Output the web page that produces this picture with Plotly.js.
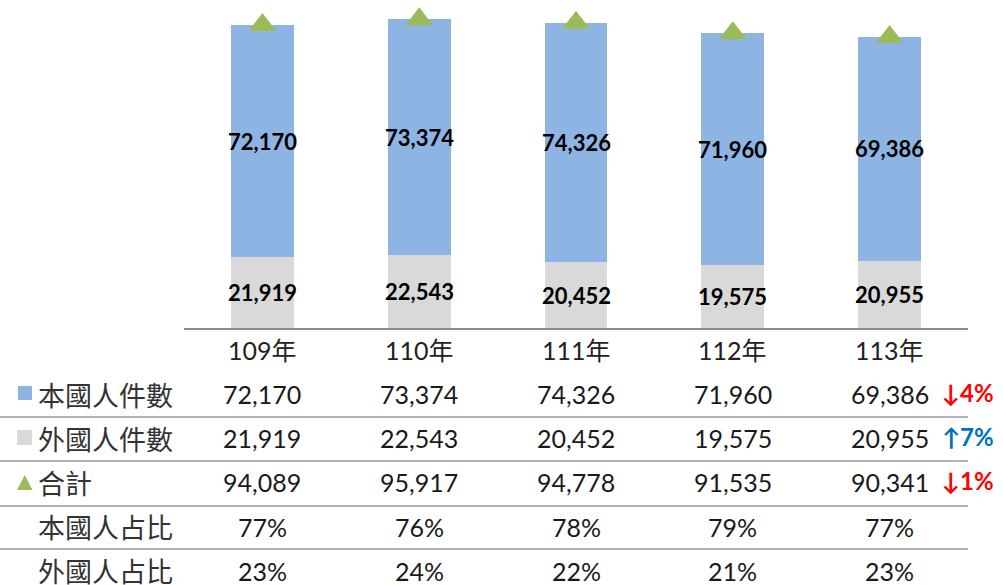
<!DOCTYPE html>
<html>
<head>
<meta charset="utf-8">
<script src="https://cdn.plot.ly/plotly-3.0.1.min.js"></script>
<style>html,body{margin:0;padding:0;background:#fff;}#chart{width:1003px;height:585px;}</style>
</head>
<body>
<div id="chart"></div>
<script>
const years = ['109年', '110年', '111年', '112年', '113年'];
const domestic = [72170, 73374, 74326, 71960, 69386];
const foreign = [21919, 22543, 20452, 19575, 20955];
const total = [94089, 95917, 94778, 91535, 90341];
const domesticShare = ['77%', '76%', '78%', '79%', '77%'];
const foreignShare = ['23%', '24%', '22%', '21%', '23%'];
const rowLabels = ['本國人件數', '外國人件數', '合計', '本國人占比', '外國人占比'];
const changes = ['↓4%', '↑7%', '↓1%'];

const W = 1003, H = 585, L = 184, R = 35, T = 6, B = 257;
const pw = W - L - R, ph = H - T - B;
const px = v => (v - L) / pw;
const py = v => (H - B - v) / ph;
const fmt = v => v.toLocaleString('en-US');

const BLUE = '#8EB4E3', GRAY = '#D9D9D9', GREEN = '#9BBB59';
const numFont = 'Lato, "Open Sans", sans-serif';
const cjkFont = 'Lato, "Noto Sans CJK TC", sans-serif';

const traces = [
  {type: 'bar', x: years, y: foreign, marker: {color: GRAY}, width: 0.40, hoverinfo: 'skip', textposition: 'none'},
  {type: 'bar', x: years, y: domestic, marker: {color: BLUE}, width: 0.40, hoverinfo: 'skip', textposition: 'none'},
  {type: 'scatter', mode: 'markers', x: years, y: total, cliponaxis: false,
   marker: {symbol: 'triangle-up', size: 24, color: GREEN}, hoverinfo: 'skip'}
];

const annotations = [];
function ann(o) { annotations.push(Object.assign({showarrow: false, xanchor: 'center', yanchor: 'middle'}, o)); }
// bar labels
years.forEach((yr, i) => {
  ann({x: i, y: foreign[i] / 2, xref: 'x', yref: 'y', text: '<b>' + fmt(foreign[i]) + '</b>',
    font: {family: numFont, size: 22, color: '#000'}});
  ann({x: i, y: foreign[i] + domestic[i] / 2, xref: 'x', yref: 'y', text: '<b>' + fmt(domestic[i]) + '</b>',
    font: {family: numFont, size: 22, color: '#000'}});
});
// header
const rowY0 = 394, rowStep = 44.2;
years.forEach((yr, i) => {
  ann({x: i, y: py(350), xref: 'x', yref: 'paper', text: yr, font: {family: cjkFont, size: 25, color: '#222'}});
});
const rows = [domestic.map(fmt), foreign.map(fmt), total.map(fmt), domesticShare, foreignShare];
rows.forEach((vals, r) => {
  const yy = py(rowY0 + r * rowStep);
  ann({x: px(36), y: yy, xref: 'paper', yref: 'paper', xanchor: 'left', text: rowLabels[r],
    font: {family: '"Noto Sans CJK TC", sans-serif', size: 27, color: '#333'}});
  vals.forEach((v, i) => {
    ann({x: i, y: yy, xref: 'x', yref: 'paper', text: v, font: {family: numFont, size: 25, color: '#1a1a1a'}});
  });
});
const changeColors = ['#FF0000', '#0070C0', '#FF0000'];
changes.forEach((c, r) => {
  ann({x: px(968), y: py(rowY0 + r * rowStep - 2), xref: 'paper', yref: 'paper', text: '<b>' + c + '</b>',
    font: {family: 'Lato, "DejaVu Sans", sans-serif', size: 24, color: changeColors[r]}});
});

const shapes = [];
[417, 461, 506, 549].forEach(ly => {
  shapes.push({type: 'line', xref: 'paper', yref: 'paper', x0: px(0), x1: px(968), y0: py(ly), y1: py(ly),
    line: {color: '#9a9a9a', width: 1.3}});
});
// legend keys
shapes.push({type: 'rect', xref: 'paper', yref: 'paper', x0: px(18), x1: px(32), y0: py(386), y1: py(400),
  fillcolor: BLUE, line: {width: 0}});
shapes.push({type: 'rect', xref: 'paper', yref: 'paper', x0: px(17), x1: px(32), y0: py(430), y1: py(445),
  fillcolor: GRAY, line: {width: 0}});
shapes.push({type: 'path', xref: 'paper', yref: 'paper',
  path: `M ${px(17)} ${py(490)} L ${px(32.5)} ${py(490)} L ${px(24.75)} ${py(475)} Z`,
  fillcolor: GREEN, line: {width: 0}});

const layout = {
  width: W, height: H,
  margin: {l: L, r: R, t: T, b: B},
  barmode: 'stack',
  showlegend: false,
  paper_bgcolor: '#fff', plot_bgcolor: '#fff',
  xaxis: {type: 'category', range: [-0.5, 4.5], showticklabels: false, ticks: '', showgrid: false,
    zeroline: false, showline: true, linecolor: '#8c8c8c', linewidth: 1.5, fixedrange: true},
  yaxis: {range: [0, 100000], visible: false, showgrid: false, zeroline: false, fixedrange: true},
  annotations: annotations,
  shapes: shapes
};

Plotly.newPlot('chart', traces, layout, {displayModeBar: false, staticPlot: true});
</script>
</body>
</html>
